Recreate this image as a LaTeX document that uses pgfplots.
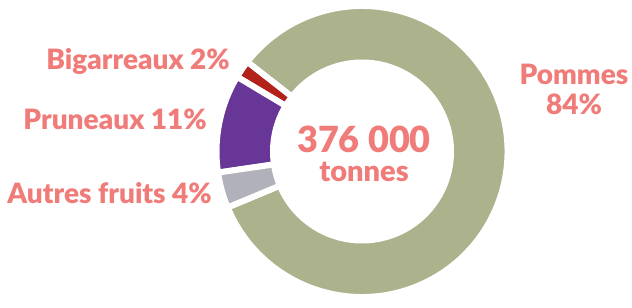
\documentclass[border=0pt]{standalone}
\usepackage{pgfplots}
\pgfplotsset{compat=1.18}
\usepackage{pgfplotstable}
\usepackage{fontspec}
\setmainfont{Lato}[BoldFont={Lato Black}]
\usetikzlibrary{calc}
\definecolor{txt}{RGB}{240,124,122}
\definecolor{cpom}{RGB}{171,178,140}
\definecolor{cbig}{RGB}{178,34,26}
\definecolor{cpru}{RGB}{103,54,150}
\definecolor{caut}{RGB}{176,177,186}

% share of each fruit (%), in drawing order (counter-clockwise from 142 deg)
\pgfplotstableread{
idx value
0 2
1 11
2 4
3 84
}\fruits

\newcommand\slice[3]{%
  \fill[#3, draw=white, line width=6bp]
    ($(C)+(#1:145.5bp)$) arc[start angle=#1, end angle=#2, radius=145.5bp]
    -- ($(C)+(#2:89bp)$) arc[start angle=#2, end angle=#1, radius=89bp] -- cycle;}

\begin{document}
\begin{tikzpicture}
\pgfplotstablegetelem{0}{value}\of\fruits \pgfmathsetmacro\vB{\pgfplotsretval}
\pgfplotstablegetelem{1}{value}\of\fruits \pgfmathsetmacro\vP{\pgfplotsretval}
\pgfplotstablegetelem{2}{value}\of\fruits \pgfmathsetmacro\vA{\pgfplotsretval}
\pgfplotstablegetelem{3}{value}\of\fruits \pgfmathsetmacro\vM{\pgfplotsretval}
\pgfmathsetmacro\tot{\vB+\vP+\vA+\vM}
\pgfmathsetmacro\k{360/\tot}
\pgfmathsetmacro\aO{142}
\pgfmathsetmacro\aI{\aO+\k*\vB}
\pgfmathsetmacro\aII{\aI+\k*\vP}
\pgfmathsetmacro\aIII{\aII+\k*\vA}
\pgfmathsetmacro\aIV{\aIII+\k*\vM}
\begin{axis}[hide axis, scale only axis, width=632bp, height=308bp,
  xmin=0, xmax=632, ymin=0, ymax=308, clip=false]
\coordinate (LL) at (axis cs:0,0);
\coordinate (UR) at (axis cs:632,308);
\coordinate (C) at (axis cs:362,156.5);
\slice{\aIII}{\aIV}{cpom}
\slice{\aO}{\aI}{cbig}
\slice{\aI}{\aII}{cpru}
\slice{\aII}{\aIII}{caut}
\begin{scope}[every node/.style={text=txt, inner sep=0pt, font=\bfseries\fontsize{28bp}{30bp}\selectfont}]
\node[anchor=base east] at (axis cs:230,238) {Bigarreaux 2\%};
\node[anchor=base east] at (axis cs:207,178) {Pruneaux 11\%};
\node[anchor=base east] at (axis cs:212,104) {Autres fruits 4\%};
\node[anchor=base] at (axis cs:574,223) {Pommes};
\node[anchor=base] at (axis cs:574,193) {84\%};
\node[anchor=base, font=\bfseries\fontsize{36bp}{38bp}\selectfont] at (axis cs:364,155) {376 000};
\node[anchor=base, font=\bfseries\fontsize{29bp}{31bp}\selectfont] at (axis cs:364,126) {tonnes};
\end{scope}
\end{axis}
\pgfresetboundingbox
\path (LL) rectangle (UR);
\end{tikzpicture}
\end{document}
